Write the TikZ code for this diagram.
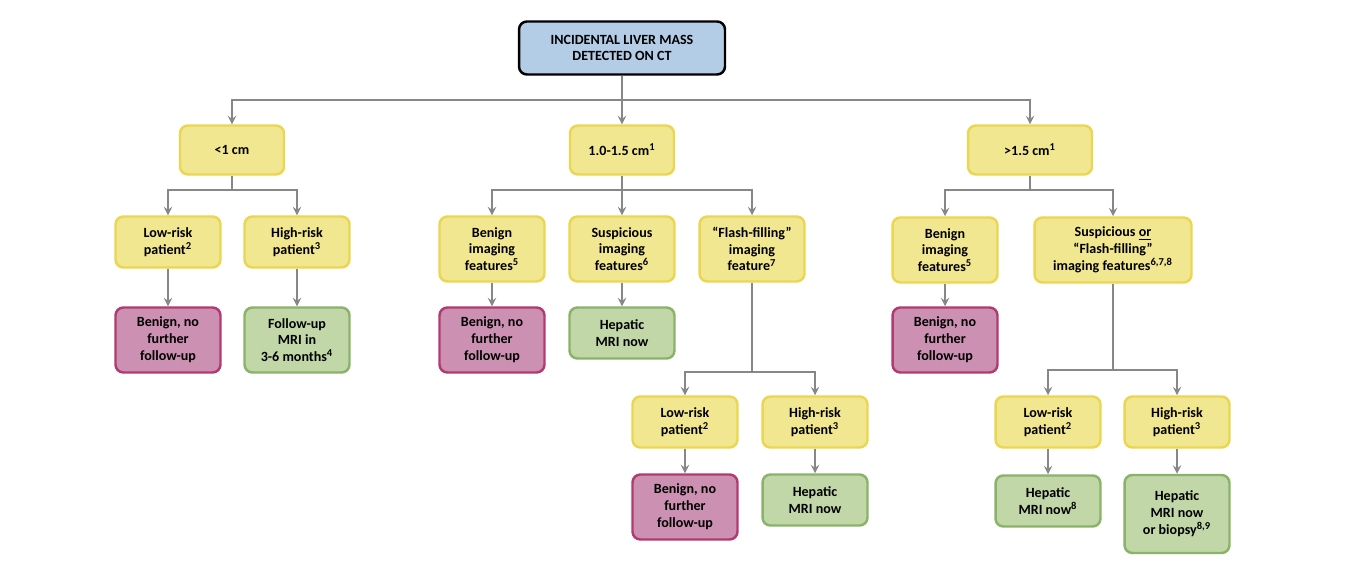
\documentclass[tikz,border=0pt]{standalone}
\usepackage{fontspec}
\setmainfont{Carlito}
\usepackage{tikz}
\usetikzlibrary{arrows,shapes,positioning}
\usepackage{xcolor}
\definecolor{lvblue}{RGB}{180,205,230}
\definecolor{lvyellow}{RGB}{242,231,145}
\definecolor{lvyellowdk}{RGB}{234,214,80}
\definecolor{lvpink}{RGB}{204,144,178}
\definecolor{lvpinkdk}{RGB}{178,58,112}
\definecolor{lvgreen}{RGB}{193,215,168}
\definecolor{lvgreendk}{RGB}{138,178,104}
\definecolor{lvgray}{RGB}{135,135,135}
\tikzstyle{arrow} = [line width=1.1pt,->,>=stealth,color=lvgray]
\tikzstyle{link} = [line width=1.1pt,color=lvgray]

\begin{document}
\begin{tikzpicture}[x=0.02cm, y=-0.02cm,
    base/.style={rectangle, rounded corners=4.5pt, line width=1.4pt, align=center,
      font=\fontsize{8}{9.6}\selectfont\bfseries, inner sep=1pt, minimum width=2.1cm},
    start/.style={base, draw=black, fill=lvblue, minimum width=4.12cm, minimum height=1.06cm},
    question/.style={base, draw=lvyellowdk, fill=lvyellow, minimum height=1.02cm},
    benign/.style={base, draw=lvpinkdk, fill=lvpink, minimum height=1.3cm},
    imaging/.style={base, draw=lvgreendk, fill=lvgreen, minimum height=1.02cm}]

\useasboundingbox (0,0) rectangle (1372,573);

% Start
\node[start] (mass) at (622,48) {INCIDENTAL LIVER MASS\\DETECTED ON CT};

% Size branches
\node[question, minimum width=2.08cm, minimum height=0.98cm] (small) at (232,150) {<1 cm};
\node[question, minimum width=2.08cm, minimum height=0.98cm] (medium) at (622,150) {1.0-1.5 cm\textsuperscript{1}};
\node[question, minimum width=2.48cm, minimum height=0.98cm] (large) at (1030,150) {>1.5 cm\textsuperscript{1}};

\coordinate (j0) at (622,100);
\draw[link] (mass) -- (j0);
\draw[arrow] (j0) -| (small);
\draw[arrow] (j0) -- (medium);
\draw[arrow] (j0) -| (large);

% <1 cm
\node[question] (smalllow) at (168,242) {Low-risk\\patient\textsuperscript{2}};
\node[question] (smallhigh) at (297,242) {High-risk\\patient\textsuperscript{3}};
\node[benign] (smallbenign) at (168,340) {Benign, no\\further\\follow-up};
\node[imaging, minimum height=1.3cm] (smallfollow) at (297,340) {Follow-up\\MRI in\\3-6 months\textsuperscript{4}};

\coordinate (j1) at (232,190);
\draw[link] (small) -- (j1);
\draw[arrow] (j1) -| (smalllow);
\draw[arrow] (j1) -| (smallhigh);
\draw[arrow] (smalllow) -- (smallbenign);
\draw[arrow] (smallhigh) -- (smallfollow);

% 1.0-1.5 cm
\node[question, minimum height=1.3cm] (medbenign) at (492,249) {Benign\\imaging\\features\textsuperscript{5}};
\node[question, minimum height=1.3cm] (medsusp) at (622,249) {Suspicious\\imaging\\features\textsuperscript{6}};
\node[question, minimum height=1.3cm] (medflash) at (752,249) {“Flash-filling”\\imaging\\feature\textsuperscript{7}};
\node[benign] (medbenignout) at (492,340) {Benign, no\\further\\follow-up};
\node[imaging] (medmri) at (622,333) {Hepatic\\MRI now};

\coordinate (j2) at (622,190);
\draw[link] (medium) -- (j2);
\draw[arrow] (j2) -| (medbenign);
\draw[arrow] (j2) -- (medsusp);
\draw[arrow] (j2) -| (medflash);
\draw[arrow] (medbenign) -- (medbenignout);
\draw[arrow] (medsusp) -- (medmri);

\node[question] (flashlow) at (685,422) {Low-risk\\patient\textsuperscript{2}};
\node[question] (flashhigh) at (815,422) {High-risk\\patient\textsuperscript{3}};
\node[benign] (flashbenign) at (685,507) {Benign, no\\further\\follow-up};
\node[imaging] (flashmri) at (815,500) {Hepatic\\MRI now};

\coordinate (j3) at (752,372);
\draw[link] (medflash) -- (j3);
\draw[arrow] (j3) -| (flashlow);
\draw[arrow] (j3) -| (flashhigh);
\draw[arrow] (flashlow) -- (flashbenign);
\draw[arrow] (flashhigh) -- (flashmri);

% >1.5 cm
\node[question, minimum height=1.3cm] (lgbenign) at (945,250) {Benign\\imaging\\features\textsuperscript{5}};
\node[question, minimum width=3.14cm, minimum height=1.3cm] (lgsusp) at (1113,250) {Suspicious \underline{or}\\“Flash-filling”\\imaging features\textsuperscript{6,7,8}};
\node[benign] (lgbenignout) at (945,340) {Benign, no\\further\\follow-up};

\coordinate (j4) at (1030,190);
\draw[link] (large) -- (j4);
\draw[arrow] (j4) -| (lgbenign);
\draw[arrow] (j4) -| (lgsusp);
\draw[arrow] (lgbenign) -- (lgbenignout);

\node[question] (lglow) at (1048,422) {Low-risk\\patient\textsuperscript{2}};
\node[question] (lghigh) at (1177,422) {High-risk\\patient\textsuperscript{3}};
\node[imaging] (lgmri) at (1048,501) {Hepatic\\MRI now\textsuperscript{8}};
\node[imaging, minimum height=1.56cm] (lgbiopsy) at (1177,514) {Hepatic\\MRI now\\or biopsy\textsuperscript{8,9}};

\coordinate (j5) at (1113,370);
\draw[link] (lgsusp) -- (j5);
\draw[arrow] (j5) -| (lglow);
\draw[arrow] (j5) -| (lghigh);
\draw[arrow] (lglow) -- (lgmri);
\draw[arrow] (lghigh) -- (lgbiopsy);

\end{tikzpicture}
\end{document}
